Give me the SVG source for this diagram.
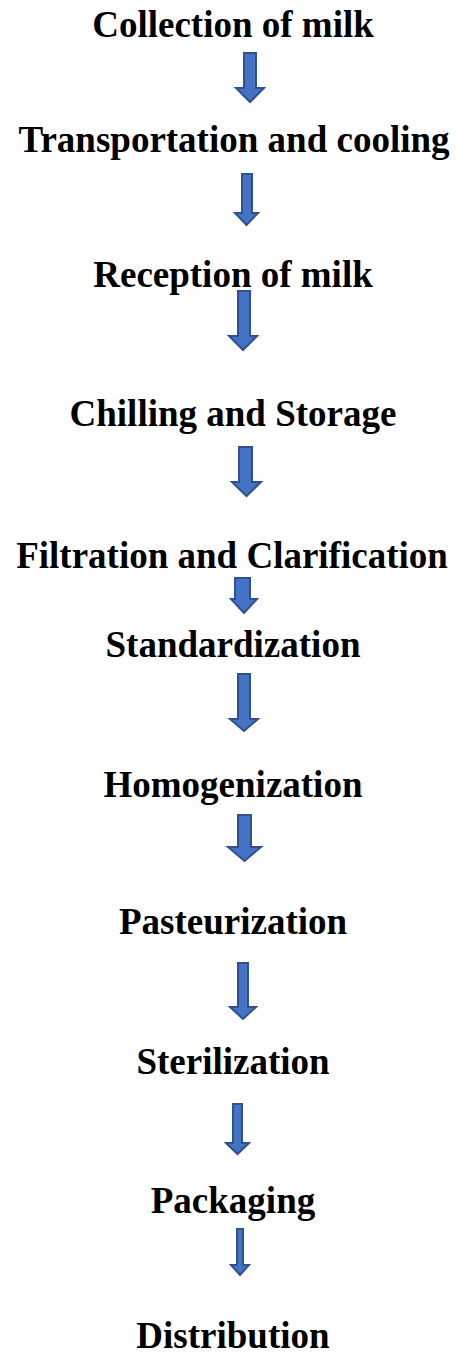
<svg xmlns="http://www.w3.org/2000/svg" width="457" height="1357" viewBox="0 0 457 1357">
<style>
.t{font-family:"Liberation Serif","Times New Roman",serif;font-weight:bold;font-size:37px;fill:#000;text-anchor:middle}
.a{fill:#4472C4;stroke:#2F528F;stroke-width:2;stroke-linejoin:miter}
</style>
<rect width="457" height="1357" fill="#fff"/>
<g id="n1"><text class="t" x="233" y="37">Collection of milk</text></g>
<g id="n2"><text class="t" x="234" y="152">Transportation and cooling</text></g>
<g id="n3"><text class="t" x="233" y="287">Reception of milk</text></g>
<g id="n4"><text class="t" x="233" y="426">Chilling and Storage</text></g>
<g id="n5"><text class="t" x="232" y="568">Filtration and Clarification</text></g>
<g id="n6"><text class="t" x="233" y="657">Standardization</text></g>
<g id="n7"><text class="t" x="233" y="797">Homogenization</text></g>
<g id="n8"><text class="t" x="233" y="934">Pasteurization</text></g>
<g id="n9"><text class="t" x="233" y="1074">Sterilization</text></g>
<g id="n10"><text class="t" x="233" y="1213">Packaging</text></g>
<g id="n11"><text class="t" x="233" y="1348">Distribution</text></g>
<g id="connectors">
<polygon class="a" points="244,53 256,53 256,88 264,88 250,102 236,88 244,88"/>
<polygon class="a" points="242,174 252,174 252,213 258,213 246.5,225 235,213 242,213"/>
<polygon class="a" points="238,291 250,291 250,336 257,336 243,350 229,336 238,336"/>
<polygon class="a" points="239,447 252,447 252,482 261,482 246.5,496 232,482 239,482"/>
<polygon class="a" points="235,578 250,578 250,599 257,599 244,613 231,599 235,599"/>
<polygon class="a" points="238,674 250,674 250,719 258,719 244,731 230,719 238,719"/>
<polygon class="a" points="238,815 251,815 251,847 261,847 244.5,861 228,847 238,847"/>
<polygon class="a" points="238,963 248,963 248,1007 256,1007 243,1019 230,1007 238,1007"/>
<polygon class="a" points="233,1104 242,1104 242,1143 249,1143 237.5,1154 226,1143 233,1143"/>
<polygon class="a" points="237,1229 243,1229 243,1265 249,1265 240,1275 231,1265 237,1265"/>
</g>
</svg>
